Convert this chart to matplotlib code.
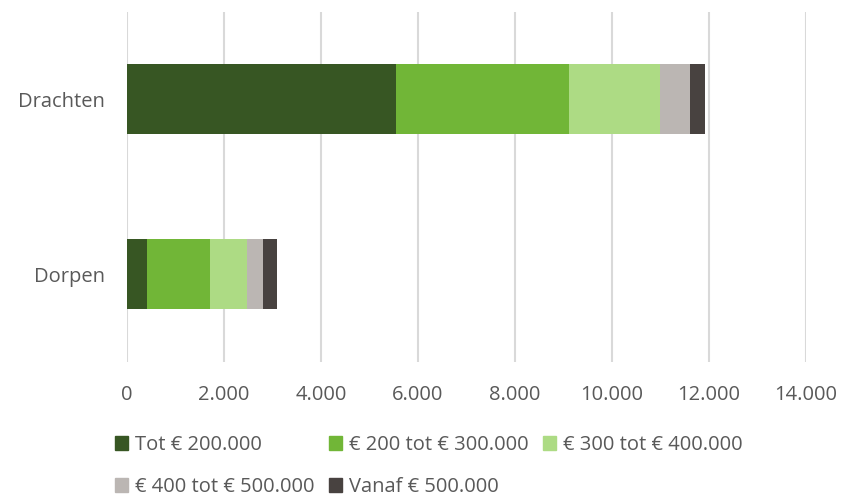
import matplotlib.pyplot as plt
from matplotlib.patches import Patch
from matplotlib.ticker import FuncFormatter

plt.rcParams['font.family'] = ['Open Sans', 'DejaVu Sans']

# data
categories = ['Drachten', 'Dorpen']
series_names = ['Tot € 200.000', '€ 200 tot € 300.000', '€ 300 tot € 400.000',
                '€ 400 tot € 500.000', 'Vanaf € 500.000']
values = [
    [5545, 414],    # Tot 200.000
    [3579, 1303],   # 200-300
    [1862, 766],    # 300-400
    [621, 331],     # 400-500
    [310, 290],     # vanaf 500
]
colors = ['#375623', '#71B637', '#ADDB84', '#BBB6B3', '#484240']

text_col = '#595959'
fs = 14.5

fig = plt.figure(figsize=(8.41, 5.01), dpi=100)
ax = fig.add_axes([0.151, 0.2784, 0.807, 0.6986])

ypos = [0, 1]
left = [0, 0]
for name, vals, c in zip(series_names, values, colors):
    ax.barh(ypos, vals, left=left, height=0.4, color=c, label=name, zorder=3)
    left = [l + v for l, v in zip(left, vals)]

ax.set_xlim(0, 14000)
ax.set_ylim(1.5, -0.5)
ax.set_xticks(range(0, 14001, 2000))
ax.xaxis.set_major_formatter(FuncFormatter(lambda v, p: '{:,.0f}'.format(v).replace(',', '.')))
ax.set_yticks(ypos)
ax.set_yticklabels(categories)
ax.grid(axis='x', color='#D9D9D9', linewidth=1.5, zorder=0)
for s in ax.spines.values():
    s.set_visible(False)
ax.tick_params(length=0, labelsize=fs, labelcolor=text_col)
ax.tick_params(axis='x', pad=17)
ax.tick_params(axis='y', pad=16)

# legend, reordered so rows read like the original
order = [0, 3, 1, 4, 2]
handles = [Patch(color=colors[i]) for i in order]
labels = [series_names[i] for i in order]
leg = fig.legend(handles, labels, ncol=3, loc='upper left', bbox_to_anchor=(0.1367, 0.132),
                 frameon=False, fontsize=fs, handlelength=0.65, handleheight=0.7,
                 handletextpad=0.35, columnspacing=0.7, labelspacing=1.1,
                 borderaxespad=0, borderpad=0)
for t in leg.get_texts():
    t.set_color(text_col)

fig.savefig('out.png', dpi=100)
